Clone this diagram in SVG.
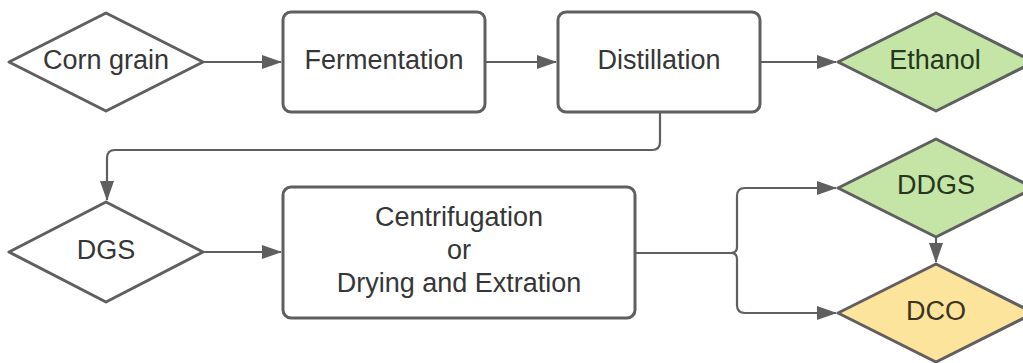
<svg xmlns="http://www.w3.org/2000/svg" width="1023" height="363" viewBox="0 0 1023 363">
  <style>
    .shape { stroke: #5f5f5f; stroke-width: 3; stroke-linejoin: round; }
    .box { fill: #ffffff; }
    .plain { fill: #ffffff; }
    .green { fill: #c4e5a6; }
    .yellow { fill: #fde49c; }
    .label { font-family: "Liberation Sans", Arial, sans-serif; font-size: 27px; fill: #363636; text-anchor: middle; }
    .label-green { fill: #27361c; }
    .label-yellow { fill: #3b3421; }
    .conn { fill: none; stroke: #5f5f5f; stroke-width: 2.2; stroke-linejoin: round; }
  </style>
  <defs>
    <marker id="arrow" viewBox="0 0 20 14" refX="19" refY="7" markerWidth="20" markerHeight="14" markerUnits="userSpaceOnUse" orient="auto">
      <path d="M0,0 L20,7 L0,14 Z" fill="#5f5f5f"/>
    </marker>
  </defs>
  <rect width="1023" height="363" fill="#ffffff"/>

  <g id="connectors">
    <path class="conn" d="M203,62 H281" marker-end="url(#arrow)"/>
    <path class="conn" d="M485,62 H556" marker-end="url(#arrow)"/>
    <path class="conn" d="M760,62 H836" marker-end="url(#arrow)"/>
    <path class="conn" d="M660,112 V142 Q660,150 652,150 H115 Q107,150 107,158 V200" marker-end="url(#arrow)"/>
    <path class="conn" d="M203,252 H281" marker-end="url(#arrow)"/>
    <path class="conn" d="M635,253 H731 Q737,253 737,247 V196 Q737,188 745,188 H836" marker-end="url(#arrow)"/>
    <path class="conn" d="M635,253 H731 Q737,253 737,259 V305 Q737,313 745,313 H836" marker-end="url(#arrow)"/>
    <path class="conn" d="M936,237 V262" marker-end="url(#arrow)"/>
  </g>

  <g id="corn-grain">
    <polygon class="shape plain" points="9,62 106,13 203,62 106,111"/>
    <text class="label" x="106" y="69">Corn grain</text>
  </g>
  <g id="fermentation">
    <rect class="shape box" x="283" y="12" width="202" height="100" rx="8"/>
    <text class="label" x="384" y="69">Fermentation</text>
  </g>
  <g id="distillation">
    <rect class="shape box" x="558" y="12" width="202" height="100" rx="8"/>
    <text class="label" x="659" y="69">Distillation</text>
  </g>
  <g id="ethanol">
    <polygon class="shape green" points="838,62 936,13 1034,62 936,111"/>
    <text class="label label-green" x="935" y="69">Ethanol</text>
  </g>
  <g id="dgs">
    <polygon class="shape plain" points="9,252 106,202 203,252 106,302"/>
    <text class="label" x="106" y="259">DGS</text>
  </g>
  <g id="centrifugation">
    <rect class="shape box" x="283" y="187" width="352" height="131" rx="8"/>
    <text class="label" x="459" y="226">Centrifugation</text>
    <text class="label" x="459" y="259">or</text>
    <text class="label" x="459" y="292">Drying and Extration</text>
  </g>
  <g id="ddgs">
    <polygon class="shape green" points="838,188 936,139 1034,188 936,237"/>
    <text class="label label-green" x="936" y="194">DDGS</text>
  </g>
  <g id="dco">
    <polygon class="shape yellow" points="838,313 936,264 1034,313 936,362"/>
    <text class="label label-yellow" x="936" y="320">DCO</text>
  </g>
</svg>
